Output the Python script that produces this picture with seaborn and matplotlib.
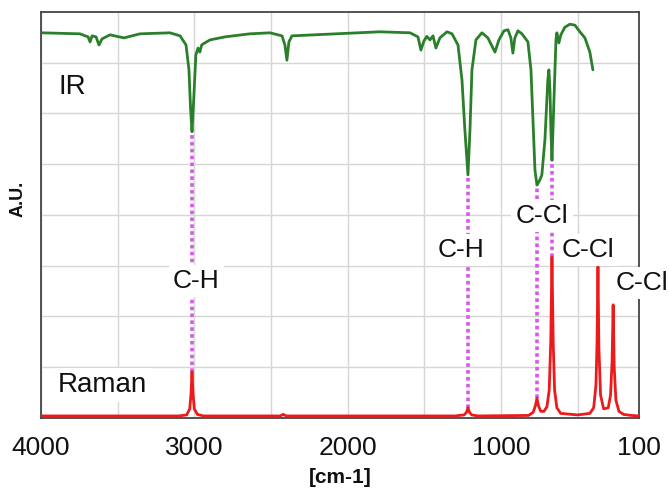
import pandas as pd
import matplotlib.pyplot as plt
import seaborn as sns

# IR transmission trace (cm-1, A.U.)
ir_wavenumber = [4000, 3746, 3693, 3680, 3667, 3641, 3622, 3602, 3550, 3459,
                 3354, 3159, 3093, 3054, 3035, 3024, 3015, 3004, 2990, 2976,
                 2964, 2952, 2943, 2898, 2800, 2637, 2506, 2428, 2409, 2396,
                 2383, 2363, 1789, 1593, 1541, 1522, 1502, 1483, 1463, 1443,
                 1424, 1398, 1352, 1319, 1280, 1254, 1235, 1215, 1202, 1189,
                 1163, 1124, 1085, 1052, 1039, 1013, 980, 954, 935, 922,
                 909, 889, 863, 843, 824, 804, 791, 778, 765, 746,
                 733, 713, 694, 687, 680, 674, 667, 654, 641, 635,
                 622, 609, 583, 550, 517, 485, 452, 420, 400]
ir_signal = [7.59, 7.57, 7.51, 7.41, 7.53, 7.51, 7.35, 7.47, 7.55, 7.49,
             7.57, 7.59, 7.53, 7.35, 6.86, 6.07, 5.64, 6.27, 7.15, 7.29,
             7.21, 7.35, 7.37, 7.45, 7.51, 7.57, 7.59, 7.53, 7.35, 7.05,
             7.41, 7.53, 7.61, 7.59, 7.51, 7.25, 7.43, 7.52, 7.45, 7.53,
             7.29, 7.49, 7.61, 7.57, 7.35, 6.66, 5.67, 4.79, 5.67, 6.86,
             7.45, 7.59, 7.49, 7.29, 7.21, 7.45, 7.63, 7.65, 7.49, 7.19,
             7.49, 7.63, 7.57, 7.49, 7.41, 6.86, 5.87, 4.89, 4.59, 4.69,
             4.79, 5.48, 6.66, 6.86, 6.46, 5.67, 5.08, 6.27, 7.45, 7.59,
             7.39, 7.55, 7.70, 7.76, 7.74, 7.61, 7.49, 7.21, 6.86]

# Raman trace (cm-1, A.U.)
raman_wavenumber = [4000, 3100, 3050, 3030, 3022, 3015, 3008, 3000, 2980, 2940,
                    2440, 2420, 2400, 1300, 1240, 1225, 1215, 1205, 1190, 1150,
                    820, 790, 775, 765, 755, 740, 720, 700, 685, 675,
                    667, 659, 650, 635, 610, 500, 420, 395, 380, 373,
                    367, 361, 350, 330, 300, 285, 275, 268, 261, 250,
                    230, 200, 150, 100]
raman_signal = [0.04, 0.04, 0.06, 0.18, 0.45, 0.91, 0.45, 0.18, 0.07, 0.04,
                0.04, 0.07, 0.04, 0.04, 0.06, 0.11, 0.20, 0.11, 0.06, 0.04,
                0.05, 0.11, 0.24, 0.39, 0.24, 0.13, 0.13, 0.22, 0.55, 1.5,
                3.17, 1.5, 0.55, 0.2, 0.09, 0.06, 0.09, 0.2, 0.65, 1.5,
                2.98, 1.4, 0.45, 0.18, 0.2, 0.45, 1.1, 2.23, 1.0, 0.35,
                0.13, 0.07, 0.05, 0.04]

# bands seen in both spectra: position, IR dip bottom, Raman peak top
band_wavenumber = [3015, 1215, 765, 667]
band_ir_level = [5.64, 4.79, 4.59, 5.08]
band_raman_level = [0.91, 0.20, 0.39, 3.17]

tick_values = [4000, 3500, 3000, 2500, 2000, 1500, 1000, 500, 100]
tick_labels = ['4000', '', '3000', '', '2000', '', '1000', '', '100']

# annotation text and where its baseline sits (cm-1, A.U.)
band_labels = ['C-H', 'C-H', 'C-Cl', 'C-Cl', 'C-Cl']
band_label_pos = [(2986, 2.56), (1261, 3.17), (732, 3.84), (432, 3.17), (80, 2.52)]
trace_labels = ['IR', 'Raman']
trace_label_pos = [(3889, 6.38), (3889, 0.51)]


sns.set_theme(style='white')
plt.rcParams['font.family'] = ['Liberation Sans', 'DejaVu Sans']

fig, ax = plt.subplots(figsize=(6.69, 4.90), dpi=100)
fig.subplots_adjust(left=0.0613, right=0.955, top=0.9755, bottom=0.147)

ir_df = pd.DataFrame({'wavenumber': ir_wavenumber, 'signal': ir_signal})
raman_df = pd.DataFrame({'wavenumber': raman_wavenumber, 'signal': raman_signal})

sns.lineplot(data=ir_df, x='wavenumber', y='signal', color='#2a802a',
             linewidth=2, ax=ax, zorder=3)
sns.lineplot(data=raman_df, x='wavenumber', y='signal', color='#ec1a1a',
             linewidth=2, ax=ax, zorder=3)

# dotted connectors between matching IR / Raman bands
ax.vlines(band_wavenumber, band_raman_level, band_ir_level, colors='#d957ea',
          linestyles=(0, (1, 0.9)), linewidth=2.6, zorder=2)

box = dict(facecolor='white', edgecolor='none', pad=3)
for text, (x, y) in zip(band_labels, band_label_pos):
    ax.text(x, y, text, ha='center', va='baseline', fontsize=19,
            color='#111111', bbox=box, zorder=4, clip_on=False)
for text, (x, y) in zip(trace_labels, trace_label_pos):
    ax.text(x, y, text, ha='left', va='baseline', fontsize=20,
            color='#111111', bbox=box, zorder=4)

ax.set_xlim(4000, 100)
ax.set_ylim(0, 8)
ax.set_xticks(tick_values, tick_labels)
ax.set_yticks(range(1, 8))
ax.set_yticklabels([])
ax.grid(True, color='#d6d6d6', linewidth=1)
ax.set_axisbelow(True)
ax.tick_params(direction='in', length=4, width=1, color='#333333')
ax.tick_params(axis='x', labelsize=19, labelcolor='#111111', pad=13)

for spine in ax.spines.values():
    spine.set_color('#444444')
    spine.set_linewidth(1.3)

ax.set_xlabel('[cm-1]', fontsize=15, fontweight='bold', color='#111111', labelpad=6)
ax.set_ylabel('A.U.', fontsize=13, fontweight='bold', color='#111111')
ax.yaxis.set_label_coords(-0.024, 0.54)

plt.savefig('out.png', dpi=100)
